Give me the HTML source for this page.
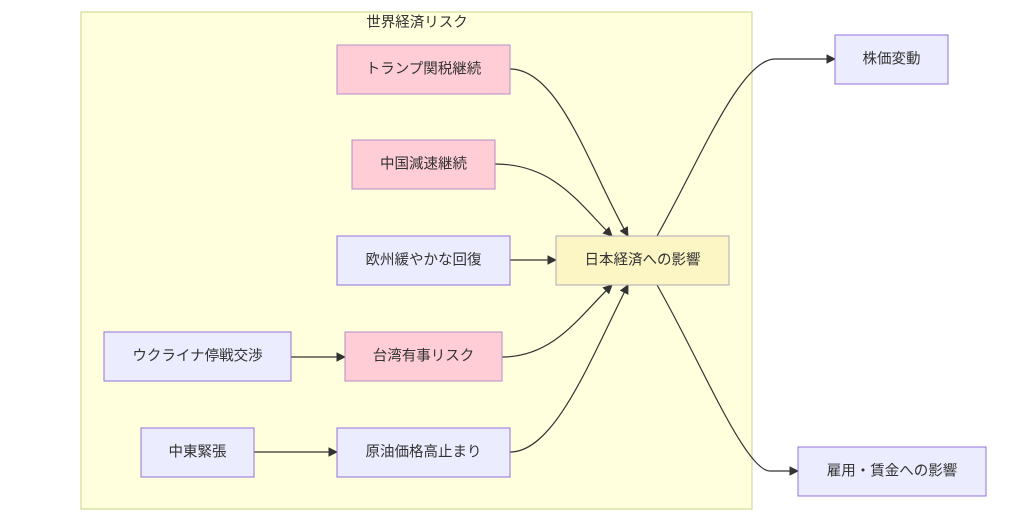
<!DOCTYPE html>
<html><head><meta charset="utf-8"><style>
html,body{margin:0;padding:0;background:#fff;}
svg{display:block;}
text{font-family:"Liberation Sans","Noto Sans CJK JP",sans-serif;font-size:14.5px;fill:#333;text-anchor:middle;dominant-baseline:central;}
.l{fill:#ececff;stroke:#9370db;stroke-width:1;}
.p{fill:#ffcdd6;stroke:#b48cc8;stroke-width:1;}
.y{fill:#fcf5c4;stroke:#b0a8b8;stroke-width:1;}
.e{fill:none;stroke:#333;stroke-width:1.2;}
</style></head><body>
<svg width="1024" height="517" viewBox="0 0 1024 517">
<defs><marker id="a" viewBox="0 0 10 10" refX="9" refY="5" markerWidth="8" markerHeight="8" orient="auto"><path d="M0,0L10,5L0,10z" fill="#333"/></marker></defs>
<rect x="81" y="12" width="671" height="497" fill="#ffffde" stroke="#c8d68a" stroke-width="1"/>
<text x="417" y="23">世界経済リスク</text>

<path class="e" marker-end="url(#a)" d="M510,69 C560,69 590,170 628,236"/>
<path class="e" marker-end="url(#a)" d="M495,164 C555,164 580,205 612,236"/>
<path class="e" marker-end="url(#a)" d="M510,260 L556,260"/>
<path class="e" marker-end="url(#a)" d="M502,357 C555,357 580,315 612,285"/>
<path class="e" marker-end="url(#a)" d="M510,452 C555,452 590,360 628,285"/>
<path class="e" marker-end="url(#a)" d="M657,236 C700,160 740,59 775,59 L835,59"/>
<path class="e" marker-end="url(#a)" d="M657,285 C700,360 745,471 770,471 L798,471"/>
<path class="e" marker-end="url(#a)" d="M291,357 L345,357"/>
<path class="e" marker-end="url(#a)" d="M254,452 L337,452"/>

<rect class="p" x="337" y="45" width="173" height="49"/><text x="423.5" y="69.5">トランプ関税継続</text>
<rect class="p" x="352" y="140" width="143" height="49"/><text x="423.5" y="164.5">中国減速継続</text>
<rect class="l" x="337" y="236" width="173" height="49"/><text x="423.5" y="260.5">欧州緩やかな回復</text>
<rect class="y" x="556" y="236" width="173" height="49"/><text x="642.5" y="260.5">日本経済への影響</text>
<rect class="l" x="104" y="332" width="187" height="49"/><text x="197.5" y="356.5">ウクライナ停戦交渉</text>
<rect class="p" x="345" y="332" width="157" height="49"/><text x="423.5" y="356.5">台湾有事リスク</text>
<rect class="l" x="141" y="428" width="113" height="49"/><text x="197.5" y="452.5">中東緊張</text>
<rect class="l" x="337" y="428" width="173" height="49"/><text x="423.5" y="452.5">原油価格高止まり</text>
<rect class="l" x="835" y="35" width="113" height="49"/><text x="891.5" y="59.5">株価変動</text>
<rect class="l" x="798" y="447" width="188" height="49"/><text x="892" y="471.5">雇用・賃金への影響</text>
</svg>
</body></html>
